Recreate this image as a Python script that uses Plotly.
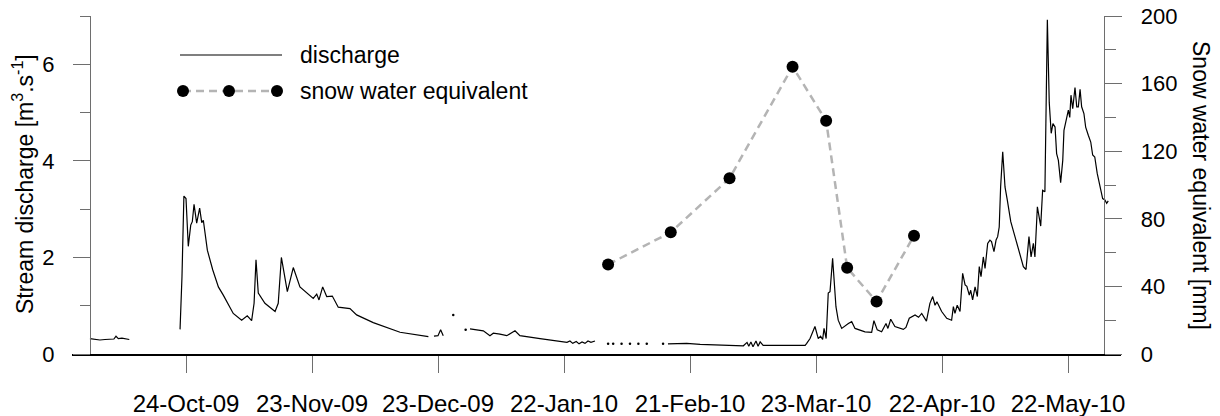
import plotly.graph_objects as go
from datetime import datetime, timedelta

# ---------------- data ----------------
q_dates = [
    # segment 1
    "2009-10-01 03:00", "2009-10-02 08:00", "2009-10-03 12:00", "2009-10-04 17:00", "2009-10-05 22:00",
    "2009-10-06 20:00", "2009-10-07 08:00", "2009-10-07 21:00", "2009-10-08 18:00", "2009-10-09 17:00",
    "2009-10-10 12:00", None,
    # segment 2
    "2009-10-22 14:00", "2009-10-23 01:00", "2009-10-23 12:00", "2009-10-24 00:00", "2009-10-24 13:00",
    "2009-10-25 03:00", "2009-10-25 12:00", "2009-10-25 22:00", "2009-10-26 13:00", "2009-10-27 06:00",
    "2009-10-27 18:00", "2009-10-28 03:00", "2009-10-29 02:00", "2009-10-30 09:00", "2009-10-31 17:00",
    "2009-11-01 21:00", "2009-11-04 06:00", "2009-11-06 06:00", "2009-11-07 14:00", "2009-11-08 15:00",
    "2009-11-09 05:00", "2009-11-09 16:00", "2009-11-10 05:00", "2009-11-11 19:00", "2009-11-14 05:00",
    "2009-11-14 23:00", "2009-11-15 17:00", "2009-11-17 03:00", "2009-11-18 13:00", "2009-11-20 03:00",
    "2009-11-23 07:00", "2009-11-24 03:00", "2009-11-24 16:00", "2009-11-25 13:00", "2009-11-26 12:00",
    "2009-11-27 20:00", "2009-11-29 06:00", "2009-12-02 01:00", "2009-12-03 15:00", "2009-12-07 14:00",
    "2009-12-13 23:00", "2009-12-17 22:00", "2009-12-20 17:00", None,
    # segment 3
    "2009-12-22 01:00", "2009-12-23 00:00", "2009-12-23 15:00", "2009-12-24 06:00", None,
    # segment 4
    "2009-12-30 15:00", "2010-01-01 01:00", "2010-01-02 19:00", "2010-01-04 09:00", "2010-01-05 04:00",
    "2010-01-06 18:00", "2010-01-08 09:00", "2010-01-10 08:00", "2010-01-11 12:00", "2010-01-16 07:00",
    "2010-01-21 01:00", "2010-01-22 17:00", "2010-01-23 10:00", "2010-01-24 02:00", "2010-01-24 22:00",
    "2010-01-25 14:00", "2010-01-26 07:00", "2010-01-27 00:00", "2010-01-27 17:00", "2010-01-28 10:00",
    "2010-01-29 09:00", None,
    # segment 5
    "2010-02-15 18:00", "2010-02-20 05:00", "2010-02-23 10:00", "2010-02-28 02:00", "2010-03-05 17:00",
    "2010-03-06 14:00", "2010-03-07 00:00", "2010-03-07 12:00", "2010-03-08 00:00", "2010-03-08 17:00",
    "2010-03-09 05:00", "2010-03-09 17:00", "2010-03-10 10:00", "2010-03-13 14:00", "2010-03-20 10:00",
    "2010-03-20 19:00", "2010-03-21 14:00", "2010-03-22 18:00", "2010-03-23 13:00", "2010-03-24 02:00",
    "2010-03-24 14:00", "2010-03-24 22:00", "2010-03-25 10:00", "2010-03-25 22:00", "2010-03-26 08:00",
    "2010-03-26 23:00", "2010-03-27 07:00", "2010-03-27 18:00", "2010-03-28 07:00", "2010-03-29 03:00",
    "2010-03-30 17:00", "2010-03-31 12:00", "2010-04-01 07:00", "2010-04-03 16:00", "2010-04-05 06:00",
    "2010-04-05 19:00", "2010-04-06 14:00", "2010-04-07 15:00", "2010-04-08 16:00", "2010-04-09 03:00",
    "2010-04-09 19:00", "2010-04-10 19:00", "2010-04-12 19:00", "2010-04-13 10:00", "2010-04-14 05:00",
    "2010-04-15 14:00", "2010-04-16 10:00", "2010-04-17 04:00", "2010-04-18 07:00", "2010-04-19 03:00",
    "2010-04-19 19:00", "2010-04-20 08:00", "2010-04-20 19:00", "2010-04-21 22:00", "2010-04-23 03:00",
    "2010-04-24 07:00", "2010-04-24 17:00", "2010-04-25 02:00", "2010-04-25 15:00", "2010-04-26 07:00",
    "2010-04-26 22:00", "2010-04-27 12:00", "2010-04-27 22:00", "2010-04-28 12:00", "2010-04-28 20:00",
    "2010-04-29 07:00", "2010-04-29 21:00", "2010-04-30 10:00", "2010-04-30 21:00", "2010-05-01 07:00",
    "2010-05-01 20:00", "2010-05-02 06:00", "2010-05-02 21:00", "2010-05-03 10:00", "2010-05-03 19:00",
    "2010-05-04 09:00", "2010-05-04 21:00", "2010-05-05 06:00", "2010-05-05 15:00", "2010-05-05 23:00",
    "2010-05-06 11:00", "2010-05-07 00:00", "2010-05-07 13:00", "2010-05-08 09:00", "2010-05-09 09:00",
    "2010-05-10 10:00", "2010-05-11 09:00", "2010-05-12 00:00", "2010-05-12 10:00", "2010-05-12 17:00",
    "2010-05-13 05:00", "2010-05-13 18:00", "2010-05-14 03:00", "2010-05-14 17:00", "2010-05-15 12:00",
    "2010-05-15 23:00", "2010-05-16 12:00", "2010-05-17 02:00", "2010-05-17 13:00", "2010-05-18 00:00",
    "2010-05-18 10:00", "2010-05-18 22:00", "2010-05-19 07:00", "2010-05-19 17:00", "2010-05-20 06:00",
    "2010-05-20 18:00", "2010-05-21 01:00", "2010-05-21 12:00", "2010-05-22 02:00", "2010-05-22 10:00",
    "2010-05-22 17:00", "2010-05-23 03:00", "2010-05-23 16:00", "2010-05-24 02:00", "2010-05-24 11:00",
    "2010-05-24 21:00", "2010-05-25 06:00", "2010-05-25 19:00", "2010-05-26 05:00", "2010-05-26 20:00",
    "2010-05-27 10:00", "2010-05-27 21:00", "2010-05-28 09:00", "2010-05-28 23:00", "2010-05-29 15:00",
    "2010-05-30 06:00", "2010-05-30 19:00", "2010-05-31 05:00", "2010-05-31 14:00",
]
q_values = [
    0.32, 0.31, 0.29, 0.30, 0.31, 0.31, 0.37, 0.32, 0.33, 0.31, 0.30, None,
    0.51, 1.60, 3.27, 3.22, 2.23, 2.67, 2.74, 3.10, 2.71, 3.02,
    2.72, 2.77, 2.15, 1.74, 1.39, 1.22, 0.84, 0.70, 0.79, 0.69,
    1.05, 1.95, 1.26, 1.05, 0.88, 1.05, 2.00, 1.29, 1.79, 1.39,
    1.15, 1.24, 1.12, 1.39, 1.19, 1.20, 0.97, 0.94, 0.81, 0.65,
    0.45, 0.39, 0.36, None,
    0.37, 0.38, 0.50, 0.38, None,
    0.52, 0.50, 0.48, 0.38, 0.43, 0.41, 0.38, 0.48, 0.38, 0.32,
    0.27, 0.24, 0.27, 0.22, 0.26, 0.21, 0.25, 0.22, 0.27, 0.24,
    0.27, None,
    0.21, 0.22, 0.20, 0.19, 0.17, 0.24, 0.16, 0.25, 0.15, 0.27,
    0.16, 0.25, 0.18, 0.18, 0.18, 0.22, 0.32, 0.57, 0.32, 0.37,
    0.30, 0.53, 0.32, 1.26, 1.29, 1.98, 1.53, 0.98, 0.70, 0.53,
    0.63, 0.67, 0.53, 0.46, 0.45, 0.69, 0.50, 0.46, 0.63, 0.53,
    0.72, 0.57, 0.51, 0.55, 0.74, 0.81, 0.76, 0.84, 0.68, 1.05,
    1.19, 1.01, 1.08, 0.88, 0.74, 0.70, 0.98, 0.84, 1.01, 0.88,
    1.67, 1.43, 1.40, 1.22, 1.32, 1.12, 1.39, 1.19, 1.81, 1.60,
    2.01, 1.77, 2.29, 2.36, 2.33, 2.12, 2.36, 2.43, 2.63, 3.46,
    4.19, 3.46, 3.19, 2.74, 2.43, 2.08, 1.81, 1.75, 2.08, 2.43,
    2.01, 2.29, 2.01, 3.05, 2.65, 3.39, 3.36, 6.92, 5.20, 4.57,
    4.77, 4.70, 4.15, 4.01, 3.55, 4.01, 4.63, 4.84, 5.05, 4.90,
    5.36, 5.08, 5.52, 5.12, 5.12, 5.48, 5.12, 4.98, 4.70, 4.53,
    4.39, 4.12, 4.08, 3.74, 3.46, 3.22, 3.19, 3.12, 3.17,
]

# isolated discharge readings (single values between gaps)
iso_dates = ["2009-12-26 15:00", "2009-12-29 14:00", "2010-02-01 12:00", "2010-02-02 17:00",
             "2010-02-04 17:00", "2010-02-06 17:00", "2010-02-08 17:00", "2010-02-10 17:00",
             "2010-02-14 14:00"]
iso_values = [0.81, 0.50, 0.21, 0.21, 0.21, 0.21, 0.21, 0.21, 0.21]

swe_dates = ["2010-02-01 12:00", "2010-02-16 10:00", "2010-03-02 10:00", "2010-03-17 10:00",
             "2010-03-25 10:00", "2010-03-30 10:00", "2010-04-06 10:00", "2010-04-15 08:00"]
swe_values = [53, 72, 104, 170, 138, 51, 31, 70]

tick_dates = ["2009-10-24", "2009-11-23", "2009-12-23", "2010-01-22",
              "2010-02-21", "2010-03-23", "2010-04-22", "2010-05-22"]
tick_labels = ["24-Oct-09", "23-Nov-09", "23-Dec-09", "22-Jan-10",
               "21-Feb-10", "23-Mar-10", "22-Apr-10", "22-May-10"]

legend_labels = ["discharge", "snow water equivalent"]

# ---------------- layout geometry ----------------
W, H = 1220, 416
ML, MR, MT, MB = 72, 99, 16, 62
PW = W - ML - MR
PH = H - MT - MB
PX_PER_DAY = 4.2
x_start = datetime(2009, 10, 24) - timedelta(days=(186 - ML) / PX_PER_DAY)
x_end = x_start + timedelta(days=PW / PX_PER_DAY)

def px(xp):
    return (xp - ML) / PW

def py(yp):
    return (H - MB - yp) / PH

FONT = "Liberation Sans, Arial, sans-serif"
AXGRAY = "#6e6e6e"

fig = go.Figure()
fig.add_trace(go.Scatter(x=q_dates, y=q_values, mode="lines",
                         line=dict(color="black", width=1.2), connectgaps=False,
                         name=legend_labels[0], showlegend=False))
fig.add_trace(go.Scatter(x=iso_dates, y=iso_values, mode="markers",
                         marker=dict(color="black", size=2.5), showlegend=False))
fig.add_trace(go.Scatter(x=swe_dates, y=swe_values, mode="lines+markers", yaxis="y2",
                         line=dict(color="#b4b4b4", width=2.5, dash="8px,5px"),
                         marker=dict(color="black", size=12),
                         name=legend_labels[1], showlegend=False))

fig.update_layout(
    template="none",
    width=W, height=H,
    margin=dict(l=ML, r=MR, t=MT, b=MB, pad=0, autoexpand=False),
    paper_bgcolor="white", plot_bgcolor="white",
    font=dict(family=FONT, color="black"),
    showlegend=False,
    xaxis=dict(
        type="date", range=[x_start, x_end], domain=[0, 1], automargin=False,
        showline=True, linecolor="black", linewidth=1.5,
        ticks="outside", ticklen=17, tickwidth=1, tickcolor=AXGRAY,
        tickvals=tick_dates, ticktext=tick_labels, tickangle=0,
        tickfont=dict(size=24, family=FONT, color="black"), ticklabelstandoff=10,
        showgrid=False, zeroline=False,
    ),
    yaxis=dict(
        range=[0, 7], anchor="free", position=px(90), automargin=False,
        showline=True, linecolor=AXGRAY, linewidth=1.2,
        ticks="outside", ticklen=17, tickwidth=1, tickcolor=AXGRAY,
        tick0=0, dtick=2, tickfont=dict(size=22, family=FONT, color="black"), ticklabelstandoff=14,
        minor=dict(dtick=1, ticks="outside", ticklen=10, tickcolor=AXGRAY, tickwidth=1, showgrid=False),
        showgrid=False, zeroline=False,
    ),
    yaxis2=dict(
        range=[0, 200], anchor="free", position=px(1104.3), overlaying="y", side="right",
        automargin=False,
        showline=True, linecolor=AXGRAY, linewidth=1.2,
        ticks="outside", ticklen=17, tickwidth=1, tickcolor=AXGRAY,
        tick0=0, dtick=40, tickfont=dict(size=22, family=FONT, color="black"), ticklabelstandoff=14,
        minor=dict(dtick=20, ticks="outside", ticklen=11, tickcolor=AXGRAY, tickwidth=1, showgrid=False),
        showgrid=False, zeroline=False,
    ),
)

# axis titles
fig.add_annotation(text="Stream discharge [m<sup>3</sup>.s<sup>-1</sup>]", textangle=-90,
                   xref="paper", yref="paper", x=px(23), y=py(184), showarrow=False,
                   font=dict(size=23, family=FONT), xanchor="center", yanchor="middle")
fig.add_annotation(text="Snow water equivalent [mm]", textangle=90,
                   xref="paper", yref="paper", x=px(1201), y=py(185), showarrow=False,
                   font=dict(size=23, family=FONT), xanchor="center", yanchor="middle")

# manual legend
fig.add_shape(type="line", xref="paper", yref="paper", x0=px(180), x1=px(282),
              y0=py(55), y1=py(55), line=dict(color="black", width=1.2))
fig.add_shape(type="line", xref="paper", yref="paper", x0=px(183), x1=px(277),
              y0=py(91), y1=py(91), line=dict(color="#b4b4b4", width=2.5, dash="8px,5px"))
for mx in (183, 229, 277):
    fig.add_shape(type="circle", xref="paper", yref="paper", xsizemode="pixel", ysizemode="pixel",
                  xanchor=px(mx), yanchor=py(91), x0=-6, x1=6, y0=-6, y1=6,
                  fillcolor="black", line=dict(color="black", width=0))
for lbl, yy in zip(legend_labels, (55, 91)):
    fig.add_annotation(text=lbl, xref="paper", yref="paper", x=px(298), y=py(yy),
                       xanchor="left", yanchor="middle", showarrow=False,
                       font=dict(size=23, family=FONT))

fig.write_html("out.html")
